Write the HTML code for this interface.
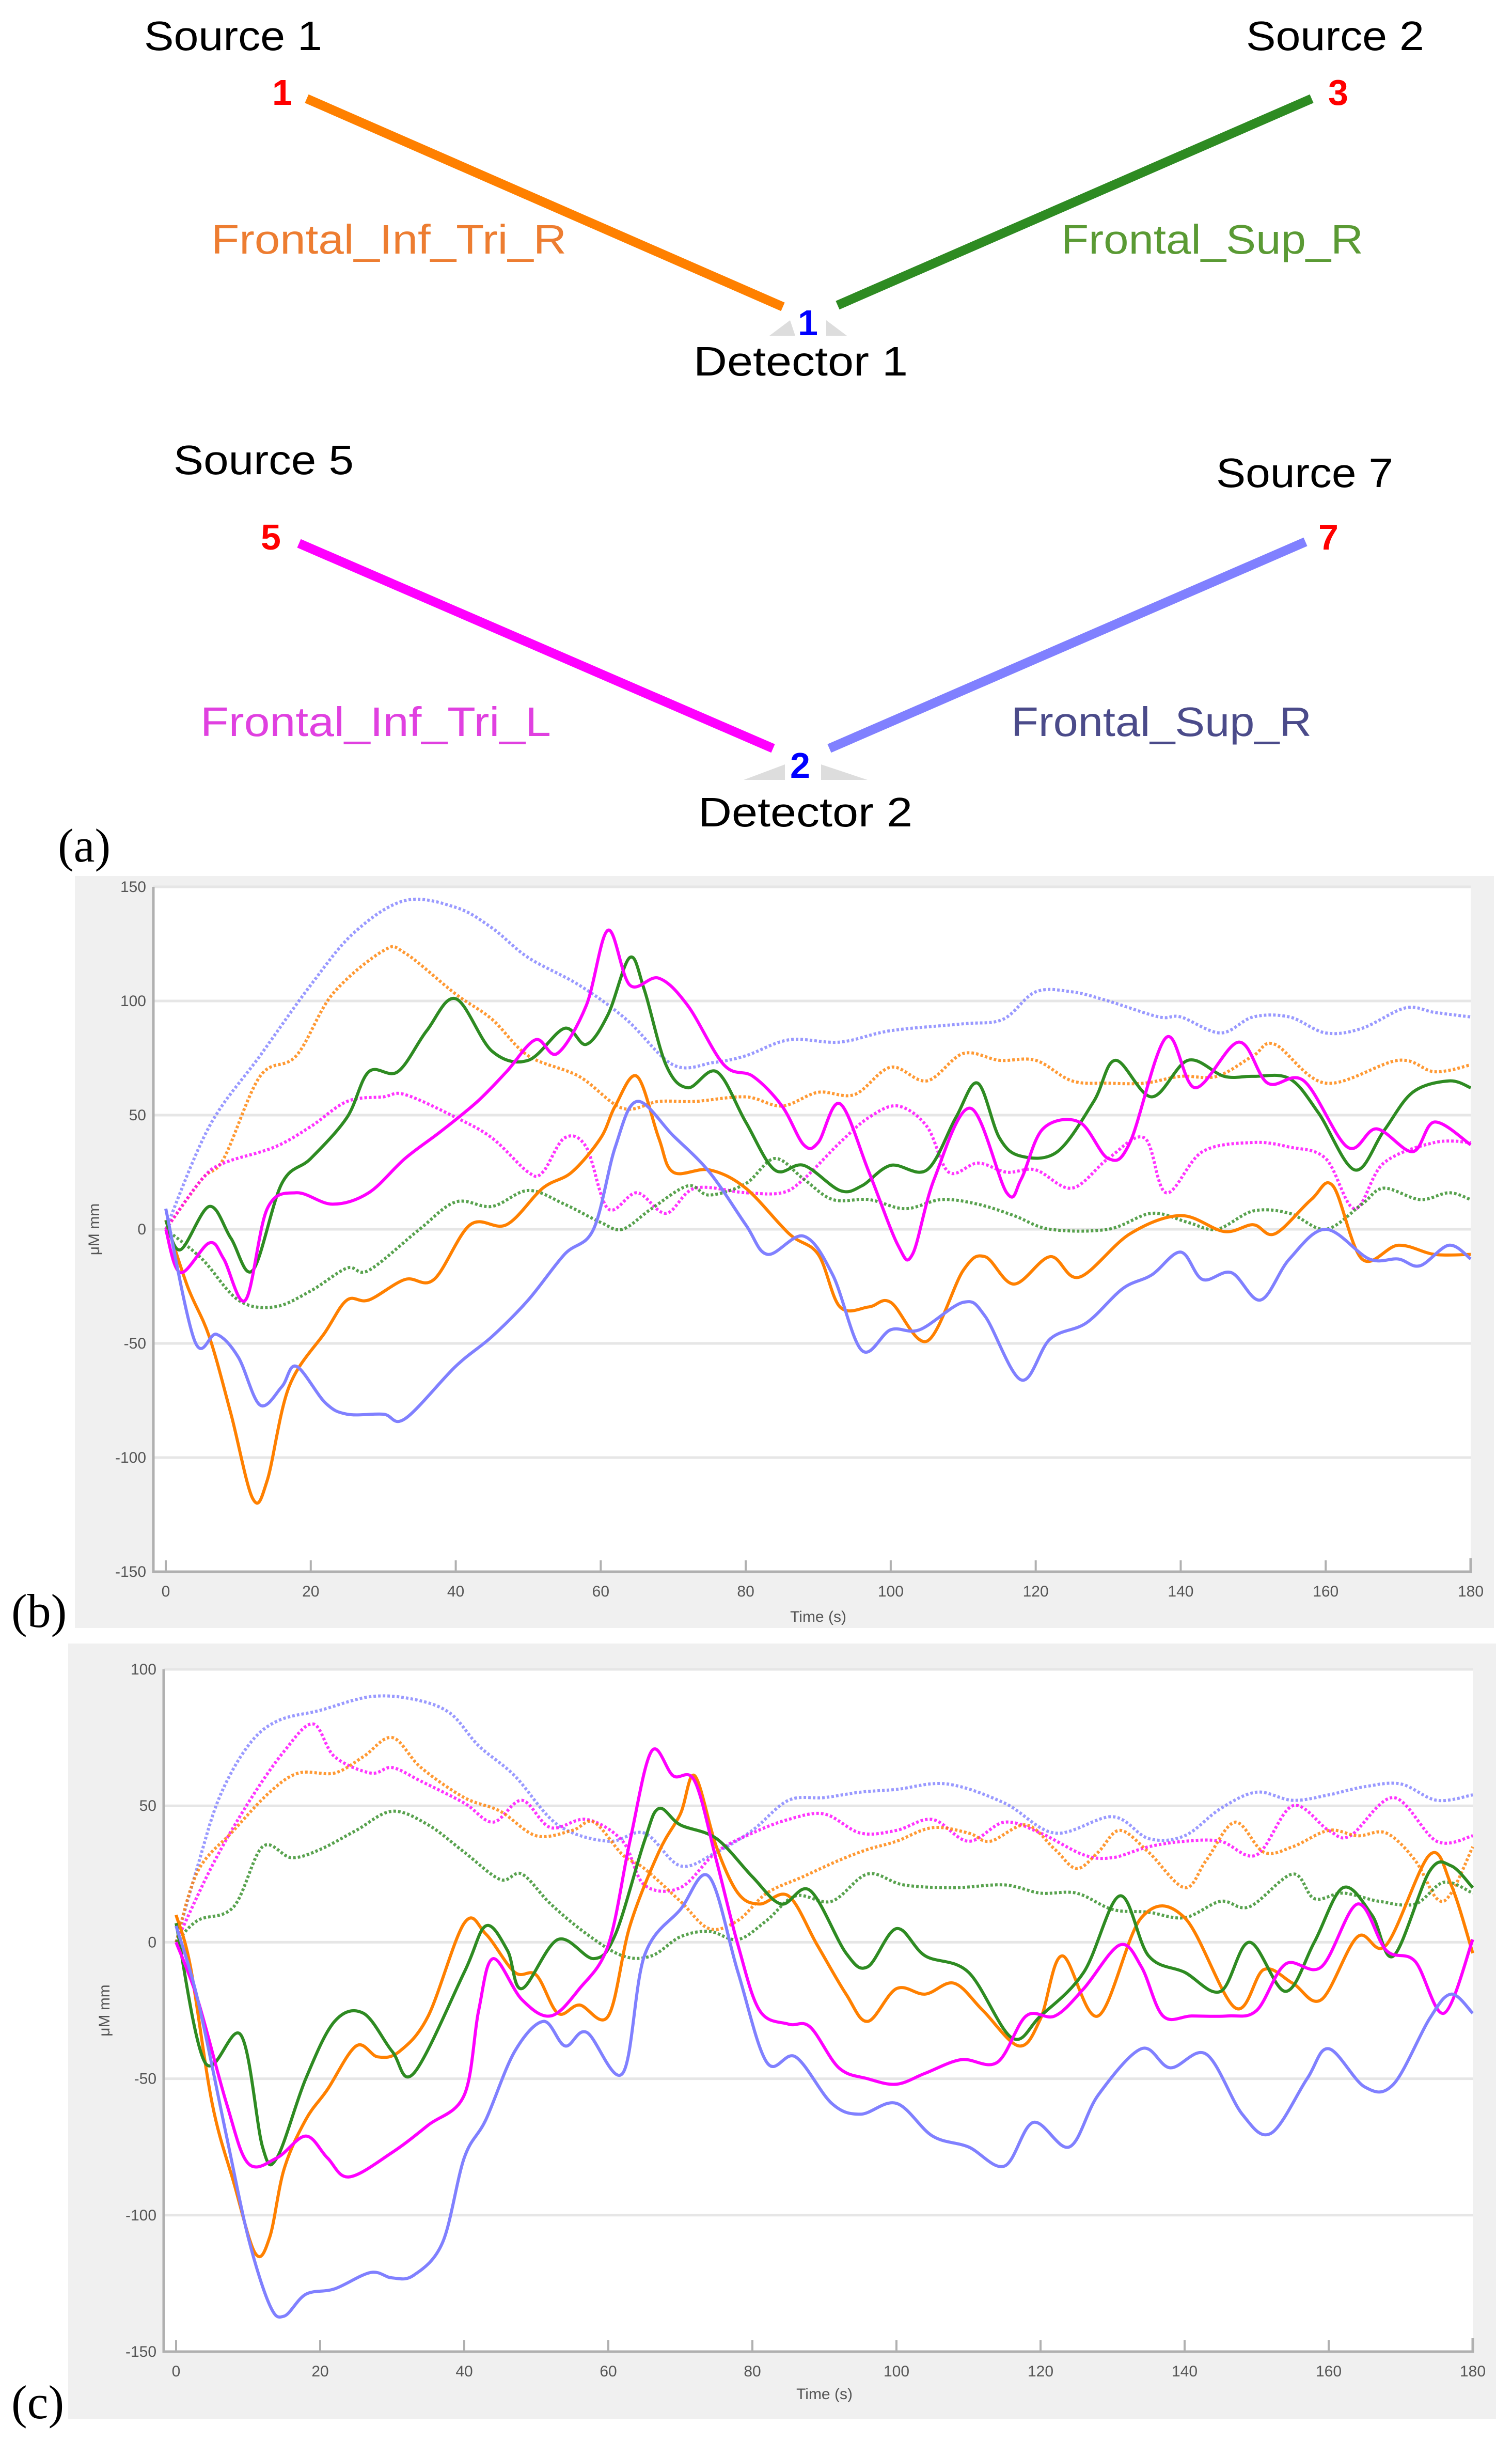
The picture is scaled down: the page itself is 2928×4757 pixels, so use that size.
<!DOCTYPE html>
<html><head><meta charset="utf-8"><title>fNIRS channels</title>
<style>
html,body{margin:0;padding:0;background:#fff;}
svg{display:block;}
.lbl{font-family:"Liberation Sans",sans-serif;}
.tick{font-family:"Liberation Sans",sans-serif;font-size:30px;fill:#555;}
.panel{font-family:"Liberation Serif",serif;font-size:92px;fill:#000;}
</style></head>
<body>
<svg id="fig" width="2928" height="4757" viewBox="0 0 2928 4757" xmlns="http://www.w3.org/2000/svg">
<g id="diagram">
  <text class="lbl" x="279" y="97" font-size="80" textLength="345" lengthAdjust="spacingAndGlyphs">Source 1</text>
  <text class="lbl" x="527" y="203" font-size="70" font-weight="bold" fill="#ff0000">1</text>
  <line x1="594" y1="191" x2="1516" y2="594" stroke="#ff8000" stroke-width="18"/>
  <text class="lbl" x="409" y="491" font-size="80" fill="#ed7d31" textLength="688" lengthAdjust="spacingAndGlyphs">Frontal_Inf_Tri_R</text>
  <text class="lbl" x="2413" y="97" font-size="80" textLength="345" lengthAdjust="spacingAndGlyphs">Source 2</text>
  <text class="lbl" x="2572" y="203" font-size="70" font-weight="bold" fill="#ff0000">3</text>
  <line x1="2540" y1="191" x2="1622" y2="591" stroke="#2e8b22" stroke-width="18"/>
  <text class="lbl" x="2055" y="491" font-size="80" fill="#5a9a34" textLength="585" lengthAdjust="spacingAndGlyphs">Frontal_Sup_R</text>
  <polygon points="1490,650 1530,620 1540,650" fill="#ddd"/>
  <polygon points="1600,620 1640,650 1600,650" fill="#ddd"/>
  <text class="lbl" x="1545" y="649" font-size="70" font-weight="bold" fill="#0000ff">1</text>
  <text class="lbl" x="1343" y="727" font-size="80" textLength="415" lengthAdjust="spacingAndGlyphs">Detector 1</text>

  <text class="lbl" x="336" y="918" font-size="80" textLength="349" lengthAdjust="spacingAndGlyphs">Source 5</text>
  <text class="lbl" x="505" y="1064" font-size="70" font-weight="bold" fill="#ff0000">5</text>
  <line x1="579" y1="1052" x2="1497" y2="1449" stroke="#ff00ff" stroke-width="18"/>
  <text class="lbl" x="388" y="1425" font-size="80" fill="#e040e0" textLength="679" lengthAdjust="spacingAndGlyphs">Frontal_Inf_Tri_L</text>
  <text class="lbl" x="2355" y="943" font-size="80" textLength="343" lengthAdjust="spacingAndGlyphs">Source 7</text>
  <text class="lbl" x="2553" y="1064" font-size="70" font-weight="bold" fill="#ff0000">7</text>
  <line x1="2528" y1="1049" x2="1606" y2="1449" stroke="#8080ff" stroke-width="18"/>
  <text class="lbl" x="1958" y="1425" font-size="80" fill="#4b4b8a" textLength="582" lengthAdjust="spacingAndGlyphs">Frontal_Sup_R</text>
  <polygon points="1440,1510 1520,1480 1520,1510" fill="#ddd"/>
  <polygon points="1590,1480 1680,1510 1590,1510" fill="#ddd"/>
  <text class="lbl" x="1530" y="1506" font-size="70" font-weight="bold" fill="#0000ff">2</text>
  <text class="lbl" x="1352" y="1600" font-size="80" textLength="415" lengthAdjust="spacingAndGlyphs">Detector 2</text>
  <text class="panel" x="112" y="1668">(a)</text>
</g>
<g id="plotB"></g>
<g id="plotC"></g>
<text class="panel" x="22" y="3150">(b)</text>
<text class="panel" x="22" y="4682">(c)</text>
</svg>
<script>
// ---------- Chart (b) data ----------
const bXTicks = [0,20,40,60,80,100,120,140,160,180];
const bYTicks = [150,100,50,0,-50,-100,-150];
const bBlueDotT = [0,6,13,20,26,33,40,45,50,57,63.5,70,75.5,80,86,93,100,110,115.5,120,125,130,137,140,145.5,150,155,160,165,171,175,180];
const bBlueDotV = [0,45,76,107,130,144,141,132,119,107,92,72,73,76,83,82,87,90,92,104,104,100,93,93,86,93,93,86,88,97,95,93];
const bOrangeDotT = [0,5,8,13,18,23,30,33,40,45,50,57,63,68,73,80,85,90,95,100,105,110,115,120,125,130,135,140,145,150,153,160,170,175,180];
const bOrangeDotV = [0,22,31,67,76,103,122,121,103,92,76,67,53,56,56,58,54,60,59,71,65,77,74,74,65,64,64,67,67,76,81,64,74,69,72];
const bMagentaDotT = [0,5,8,15,20,25,30,33,40,45,50,52,55,58,61,65,69,73,80,85,88,93,97,101,105,108,112,116,120,125,130,135,138,143,150,155,160,164,168,175,180];
const bMagentaDotV = [0,22,29,36,45,56,58,59,49,40,25,25,40,36,9,16,7,18,16,16,22,38,49,54,45,25,29,25,26,18,31,40,16,34,38,36,31,9,29,38,38];
const bGreenDotT = [0,5,10,15,20,25,28,35,40,45,50,55,60,63,67,72,75,80,84,88,92,97,102,107,112,117,122,130,136,141,145,150,155,160,165,168,173,177,180];
const bGreenDotV = [0,-13,-31,-34,-27,-17,-18,0,12,10,17,11,3,0,9,19,15,20,31,22,13,13,9,13,11,6,0,0,7,3,0,8,7,0,11,18,13,16,13];
const bOrangeT = [0,3,6,9,12,14,17,22,25,28,33,37,42,47,52,56,60,62,65,68,70,75,80,86,90,93,97,100,105,110,113,117,122,126,133,140,146,150,153,158,161,165,170,175,180];
const bOrangeV = [4,-25,-47,-81,-118,-110,-69,-45,-31,-31,-22,-22,2,2,18,25,40,54,67,40,25,26,18,-2,-11,-34,-34,-32,-49,-18,-12,-24,-12,-21,-2,6,-1,2,-2,13,19,-13,-7,-11,-11];
const bGreenT = [0,2,6,9,12,16,20,25,28,32,36,40,45,50,55,58,61,64,66,69,72,76,80,84,88,93,96,100,105,109,112,115,118,123,128,131,136,141,146,150,155,159,164,168,172,177,180];
const bGreenV = [4,-9,10,-4,-18,20,31,49,69,69,87,101,78,74,88,81,94,119,105,72,62,69,47,26,28,17,19,28,26,49,64,40,32,34,56,74,58,74,67,67,66,51,26,43,60,65,62];
const bMagentaT = [0,2,6,8,11,14,18,23,28,33,38,43,47,51,54,58,61,64,68,72,77,81,85,88,90,93,97,101,103,106,111,116,118,121,126,130,133,138,142,148,152,157,163,167,172,175,180];
const bMagentaV = [0,-19,-6,-13,-31,9,16,11,16,31,43,56,69,83,77,98,131,107,110,98,72,67,54,37,38,55,25,-7,-11,22,53,16,22,44,47,31,38,84,62,82,64,65,36,44,34,47,37];
const bBlueT = [0,4,7,10,13,16,18,22,25,30,33,40,45,50,55,59,62,65,70,75,80,83,88,92,96,100,104,110,113,118,122,127,132,136,140,143,147,151,155,160,166,170,173,177,180];
const bBlueV = [9,-49,-46,-56,-77,-69,-60,-76,-81,-81,-83,-60,-47,-31,-11,0,36,56,41,25,2,-11,-3,-20,-53,-44,-44,-32,-38,-66,-48,-41,-26,-20,-10,-22,-19,-31,-13,0,-13,-13,-16,-7,-13];

// ---------- Chart (c) data ----------
const cXTicks = [0,20,40,60,80,100,120,140,160,180];
const cYTicks = [100,50,0,-50,-100,-150];
const cBlueDotT = [0,3,6,10,14,20,27,33,38,42,47,53,60,65,70,75,80,85,90,95,100,107,115,122,130,135,140,145,150,155,160,165,170,175,180];
const cBlueDotV = [0,28,53,72,81,85,90,89,84,72,61,43,37,40,28,33,41,52,53,55,56,58,51,40,46,38,39,49,55,52,54,57,58,52,54];
const cMagentaDotT = [0,5,10,15,19,22,27,30,34,40,44,48,52,57,62,65,70,75,80,85,90,95,100,105,110,115,120,126,130,135,140,145,150,155,160,163,169,175,180];
const cMagentaDotV = [0,28,51,70,80,68,62,64,59,51,44,52,42,45,37,21,20,33,40,45,47,40,41,45,37,44,40,32,31,35,37,37,32,50,41,39,53,37,39];
const cOrangeDotT = [0,3,8,13,17,22,26,30,34,40,45,50,55,58,62,65,70,74,78,82,87,92,96,100,105,110,113,118,122,125,128,131,135,140,143,147,151,155,160,164,168,172,175,177,180];
const cOrangeDotV = [0,26,41,55,62,62,68,75,64,53,48,39,41,44,32,27,15,5,8,18,24,30,34,37,42,40,37,43,34,27,33,41,33,20,30,44,33,35,41,39,40,30,16,18,35];
const cGreenDotT = [0,3,8,12,16,20,25,30,35,40,45,48,52,57,62,66,70,74,78,82,86,91,96,101,108,115,120,125,130,135,140,145,149,155,158,162,167,172,176,180];
const cGreenDotV = [0,8,13,35,31,34,41,48,43,33,23,25,14,3,-5,-5,2,4,1,8,17,15,25,21,20,21,18,18,12,11,9,15,13,25,16,18,15,14,22,18];
const cOrangeT = [0,2,5,8,11,13,15,18,21,25,28,31,35,40,43,47,50,53,56,60,63,67,70,72,75,78,81,85,89,93,96,100,104,108,112,117,120,123,128,134,140,147,151,155,159,164,168,174,177,180];
const cOrangeV = [10,-9,-59,-88,-114,-108,-83,-65,-54,-38,-42,-40,-27,7,3,-11,-12,-26,-23,-27,6,33,47,61,35,18,14,17,-1,-19,-29,-17,-19,-15,-25,-38,-28,-5,-27,9,9,-24,-10,-15,-21,2,-1,32,21,-4];
const cGreenT = [0,4,9,12,14,18,22,26,30,33,40,43,46,48,53,58,61,65,67,70,75,80,84,88,93,96,100,104,110,116,120,126,131,135,140,145,149,154,158,162,166,169,174,177,180];
const cGreenV = [7,-44,-34,-75,-79,-50,-29,-26,-40,-48,-11,6,-3,-17,1,-6,3,37,49,43,38,24,14,19,-4,-9,5,-5,-11,-35,-27,-11,17,-5,-11,-18,0,-18,0,20,10,-5,26,28,20];
const cMagentaT = [0,3,7,10,14,18,21,24,30,35,40,42,44,48,52,56,60,63,66,69,72,75,78,81,85,88,92,96,100,104,109,114,118,122,126,131,134,137,141,146,150,154,159,164,168,172,176,180];
const cMagentaV = [0,-21,-59,-81,-79,-71,-79,-86,-77,-67,-56,-25,-6,-21,-27,-17,-1,37,70,61,59,30,-1,-25,-30,-31,-46,-50,-52,-48,-43,-44,-27,-27,-17,-1,-9,-27,-27,-27,-25,-8,-9,14,-3,-7,-26,1];
const cBlueT = [0,3,7,10,13,15,18,22,27,30,33,37,40,43,47,51,54,57,62,65,70,74,78,82,86,91,95,100,105,110,115,119,124,128,134,138,143,148,152,157,160,165,169,174,177,180];
const cBlueV = [6,-21,-71,-108,-133,-137,-129,-127,-121,-123,-122,-110,-79,-65,-40,-29,-38,-33,-48,-5,12,24,-11,-44,-42,-59,-63,-59,-71,-75,-82,-66,-75,-56,-39,-46,-41,-63,-70,-50,-39,-53,-52,-28,-19,-26];

const NS = 'http://www.w3.org/2000/svg';
function mk(tag, attrs, parent){
  const e = document.createElementNS(NS, tag);
  for (const k in attrs) e.setAttribute(k, attrs[k]);
  parent.appendChild(e);
  return e;
}
function smoothPath(pts){
  let d = 'M' + pts[0][0].toFixed(1) + ',' + pts[0][1].toFixed(1);
  for (let i = 0; i < pts.length - 1; i++){
    const p0 = pts[Math.max(0,i-1)], p1 = pts[i], p2 = pts[i+1], p3 = pts[Math.min(pts.length-1,i+2)];
    const c1x = p1[0] + (p2[0]-p0[0])/6, c1y = p1[1] + (p2[1]-p0[1])/6;
    const c2x = p2[0] - (p3[0]-p1[0])/6, c2y = p2[1] - (p3[1]-p1[1])/6;
    d += ' C' + c1x.toFixed(1)+','+c1y.toFixed(1)+' '+c2x.toFixed(1)+','+c2y.toFixed(1)+' '+p2[0].toFixed(1)+','+p2[1].toFixed(1);
  }
  return d;
}

function drawChart(g, cfg){
  const xs = t => cfg.x0 + (t - 0) / 180 * (cfg.x1 - cfg.x0);
  const ys = v => cfg.yTop + (cfg.yMax - v) / (cfg.yMax - cfg.yMin) * (cfg.yBot - cfg.yTop);
  const bg = mk('rect', {x:cfg.px, y:cfg.py, width:cfg.pw, height:cfg.ph, fill:'#f0f0f0'}, g);
  
  
  const area = mk('rect', {x:cfg.x0-24, y:cfg.yTop, width:cfg.x1-cfg.x0+24, height:cfg.yBot-cfg.yTop, fill:'#ffffff'}, g);
  
  
  cfg.yTicks.forEach(v => {
    const gl = mk('line', {x1:cfg.x0-24, x2:cfg.x1, y1:ys(v), y2:ys(v), stroke:'#e6e6e6', 'stroke-width':5}, g);
    
    
    const tl = mk('text', {x:cfg.x0-38, y:ys(v)+10, 'text-anchor':'end', class:'tick'}, g);
    tl.textContent = String(v);
    
    
  });
  cfg.xTicks.forEach(t => {
    const tk = mk('line', {x1:xs(t), x2:xs(t), y1:cfg.yBot, y2:cfg.yBot-22, stroke:'#b0b0b0', 'stroke-width':4}, g);
    
    
    const tl = mk('text', {x:xs(t), y:cfg.yBot+48, 'text-anchor':'middle', class:'tick'}, g);
    tl.textContent = String(t);
    
    
  });
  const ax = mk('path', {d:'M'+(cfg.x0-24)+','+cfg.yTop+' L'+(cfg.x0-24)+','+cfg.yBot+' L'+cfg.x1+','+cfg.yBot+' L'+cfg.x1+','+(cfg.yBot-26), fill:'none', stroke:'#b0b0b0', 'stroke-width':5}, g);
  
  
  cfg.series.forEach(s => {
    const pts = s.t.map((t,i) => [xs(t), ys(s.v[i])]);
    const attrs = {d:smoothPath(pts), fill:'none', stroke:s.color, 'stroke-width':6, 'stroke-linejoin':'round'};
    if (s.dot){ attrs['stroke-dasharray'] = '5 4'; attrs['stroke-opacity'] = 0.8; }
    const p = mk('path', attrs, g);
    
    
  });
  const xl = mk('text', {x:(cfg.x0+cfg.x1)/2, y:cfg.xlY, 'text-anchor':'middle', class:'tick', 'font-size':34}, g);
  xl.textContent = 'Time (s)';
  
  
  const yl = mk('text', {x:0, y:0, 'text-anchor':'middle', class:'tick', transform:'translate('+cfg.ylX+','+((cfg.yTop+cfg.yBot)/2)+') rotate(-90)'}, g);
  yl.textContent = 'μM mm';
  
  
}

const OR='#ff8000', GR='#2e8b22', MG='#ff00ff', BL='#8080ff';
drawChart(document.getElementById('plotB'), {
  px:145, py:1696, pw:2748, ph:1456, x0:321, x1:2848, yTop:1717, yBot:3043, yMax:150, yMin:-150,
  xTicks:bXTicks, yTicks:bYTicks, xlY:3140, ylX:192,
  series:[
    {t:bBlueDotT, v:bBlueDotV, color:BL, dot:true, name:'series-blue-dotted'},
    {t:bOrangeDotT, v:bOrangeDotV, color:OR, dot:true, name:'series-orange-dotted'},
    {t:bMagentaDotT, v:bMagentaDotV, color:MG, dot:true, name:'series-magenta-dotted'},
    {t:bGreenDotT, v:bGreenDotV, color:GR, dot:true, name:'series-green-dotted'},
    {t:bOrangeT, v:bOrangeV, color:OR, dot:false, name:'series-orange-solid'},
    {t:bGreenT, v:bGreenV, color:GR, dot:false, name:'series-green-solid'},
    {t:bMagentaT, v:bMagentaV, color:MG, dot:false, name:'series-magenta-solid'},
    {t:bBlueT, v:bBlueV, color:BL, dot:false, name:'series-blue-solid'}
  ]
});
drawChart(document.getElementById('plotC'), {
  px:132, py:3182, pw:2765, ph:1501, x0:341, x1:2852, yTop:3232, yBot:4553, yMax:100, yMin:-150,
  xTicks:cXTicks, yTicks:cYTicks, xlY:4645, ylX:212,
  series:[
    {t:cBlueDotT, v:cBlueDotV, color:BL, dot:true, name:'series-blue-dotted'},
    {t:cMagentaDotT, v:cMagentaDotV, color:MG, dot:true, name:'series-magenta-dotted'},
    {t:cOrangeDotT, v:cOrangeDotV, color:OR, dot:true, name:'series-orange-dotted'},
    {t:cGreenDotT, v:cGreenDotV, color:GR, dot:true, name:'series-green-dotted'},
    {t:cOrangeT, v:cOrangeV, color:OR, dot:false, name:'series-orange-solid'},
    {t:cGreenT, v:cGreenV, color:GR, dot:false, name:'series-green-solid'},
    {t:cMagentaT, v:cMagentaV, color:MG, dot:false, name:'series-magenta-solid'},
    {t:cBlueT, v:cBlueV, color:BL, dot:false, name:'series-blue-solid'}
  ]
});
</script>
</body></html>
